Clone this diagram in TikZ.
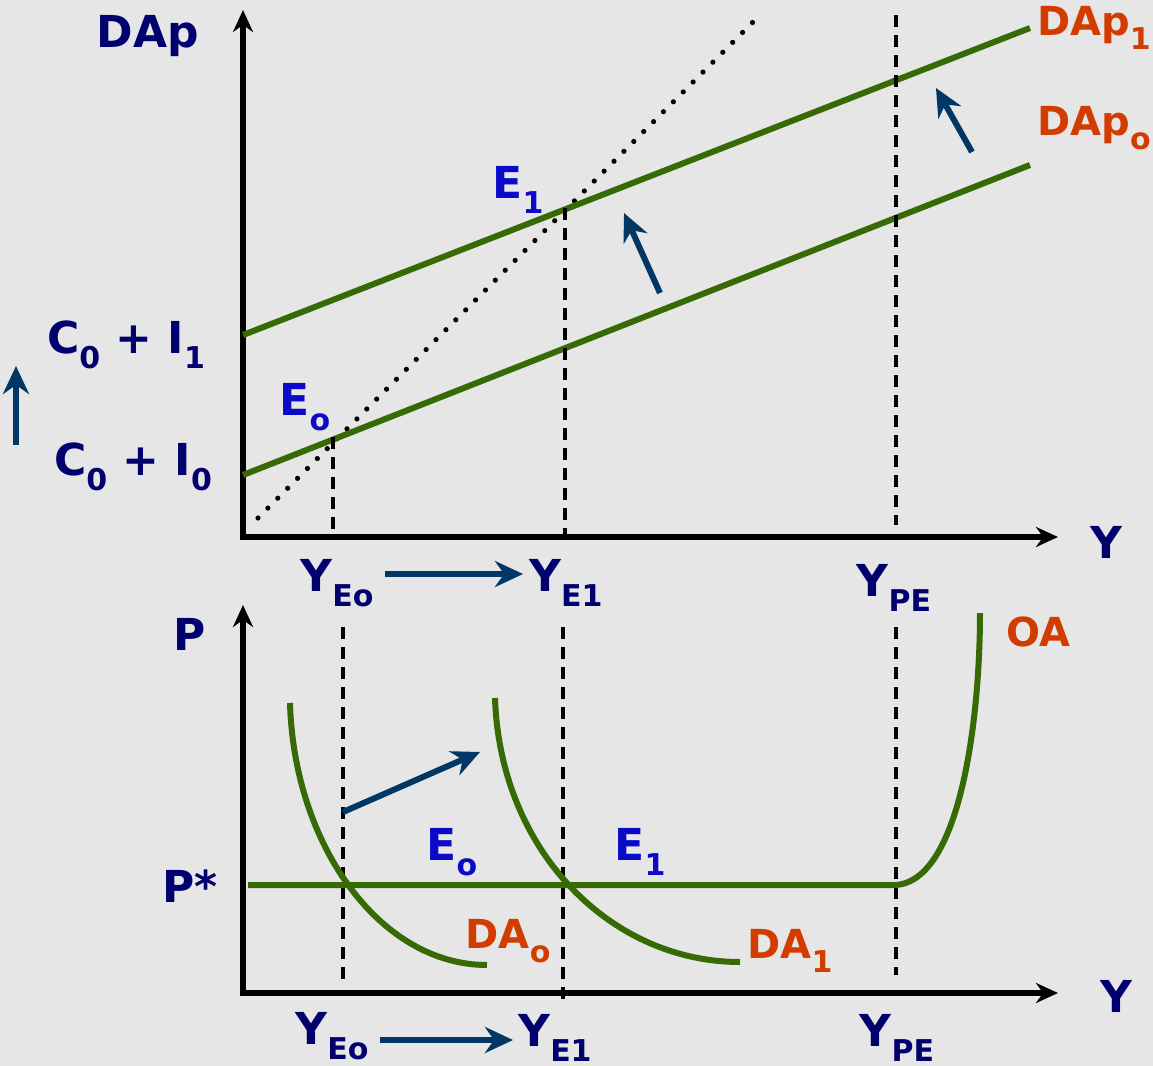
\documentclass[tikz,border=0pt]{standalone}
\usepackage{fontspec}
\setmainfont{DejaVu Sans}
\usetikzlibrary{arrows.meta}

\definecolor{navy}{RGB}{0,0,110}
\definecolor{eblue}{RGB}{10,10,200}
\definecolor{lblred}{RGB}{210,60,0}
\definecolor{curvegreen}{RGB}{55,105,5}
\definecolor{shiftblue}{RGB}{0,55,100}
\definecolor{paper}{RGB}{230,230,230}

\newcommand{\lowsub}[1]{\raisebox{-0.35em}{\fontsize{15}{18}\selectfont #1}}

\begin{document}
\begin{tikzpicture}[x=0.5pt, y=-0.5pt, >=Stealth,
    axis/.style={line width=2.8pt, >={Stealth[length=11pt,width=10pt]}},
    curve/.style={line width=3pt, curvegreen},
    guide/.style={line width=1.6pt, dash pattern=on 6pt off 4pt},
    shiftarrow/.style={->, line width=3pt, shiftblue, >={Stealth[length=14pt,width=13pt]}},
    axlabel/.style={font=\bfseries\fontsize{22}{26}\selectfont, text=navy},
    ptlabel/.style={font=\bfseries\fontsize{22}{26}\selectfont, text=eblue},
    crvlabel/.style={font=\bfseries\fontsize{20}{24}\selectfont, text=lblred}]

    % paper
    \fill[paper] (0,0) rectangle (1153,1066);
    \useasboundingbox (0,0) rectangle (1153,1066);

    % upper panel: aggregate demand
    \draw[axis, <->] (243,10) -- (243,537) -- (1058,537);
    \node[axlabel] (dap) at (148,36) {DAp};
    \node[axlabel] (yup) at (1106,542) {Y};

    \draw[line width=2.6pt, line cap=round, dash pattern=on 0pt off 7pt] (258,518) -- (757,18);
    \draw[curve] (243,335) -- (1030,28);
    \draw[curve] (243,475) -- (1030,165);

    \coordinate (eo) at (333,437);
    \coordinate (e1) at (565,208);
    \draw[guide] (eo) -- (333,537);
    \draw[guide] (e1) -- (565,537);
    \draw[guide] (896,15) -- (896,525);

    \node[ptlabel] (eolab) at (305,407) {E\lowsub{o}};
    \node[ptlabel] (e1lab) at (518,190) {E\lowsub{1}};
    \node[crvlabel] (dap1) at (1094,28) {DAp\lowsub{1}};
    \node[crvlabel] (dapo) at (1094,128) {DAp\lowsub{o}};
    \node[axlabel] (ci1) at (126,345) {C\lowsub{0} + I\lowsub{1}};
    \node[axlabel] (ci0) at (133,467) {C\lowsub{0} + I\lowsub{0}};

    \draw[shiftarrow] (16,445) -- (16,366);
    \draw[shiftarrow] (660,293) -- (624,213);
    \draw[shiftarrow] (972,152) -- (936,88);

    \node[axlabel] (yeo) at (337,583) {Y\lowsub{Eo}};
    \node[axlabel] (ye1) at (566,583) {Y\lowsub{E1}};
    \node[axlabel] (ype) at (894,588) {Y\lowsub{PE}};
    \draw[shiftarrow] (385,574) -- (523,574);

    % lower panel: aggregate supply and demand
    \draw[axis, <->] (243,605) -- (243,993) -- (1058,993);
    \node[axlabel] (p) at (190,634) {P};
    \node[axlabel] (pstar) at (190,886) {P*};
    \node[axlabel] (ylow) at (1116,996) {Y};

    \draw[guide] (343,627) -- (343,980);
    \draw[guide] (563,627) -- (563,1000);
    \draw[guide] (896,627) -- (896,975);

    \draw[curve] (248,885) -- (895,885) .. controls (960,882) and (980,720) .. (980,613);
    \draw[curve] (290,703) .. controls (294,845) and (380,965) .. (487,965);
    \draw[curve] (495,698) .. controls (500,850) and (610,962) .. (740,962);

    \draw[shiftarrow] (343,812) -- (480,752);

    \node[ptlabel] (eolow) at (452,852) {E\lowsub{o}};
    \node[ptlabel] (e1low) at (640,852) {E\lowsub{1}};
    \node[crvlabel] (dao) at (508,941) {DA\lowsub{o}};
    \node[crvlabel] (da1) at (790,951) {DA\lowsub{1}};
    \node[crvlabel] (oa) at (1038,632) {OA};

    \node[axlabel] (yeob) at (332,1036) {Y\lowsub{Eo}};
    \node[axlabel] (ye1b) at (555,1038) {Y\lowsub{E1}};
    \node[axlabel] (ypeb) at (897,1038) {Y\lowsub{PE}};
    \draw[shiftarrow] (380,1040) -- (513,1040);
\end{tikzpicture}
\end{document}
